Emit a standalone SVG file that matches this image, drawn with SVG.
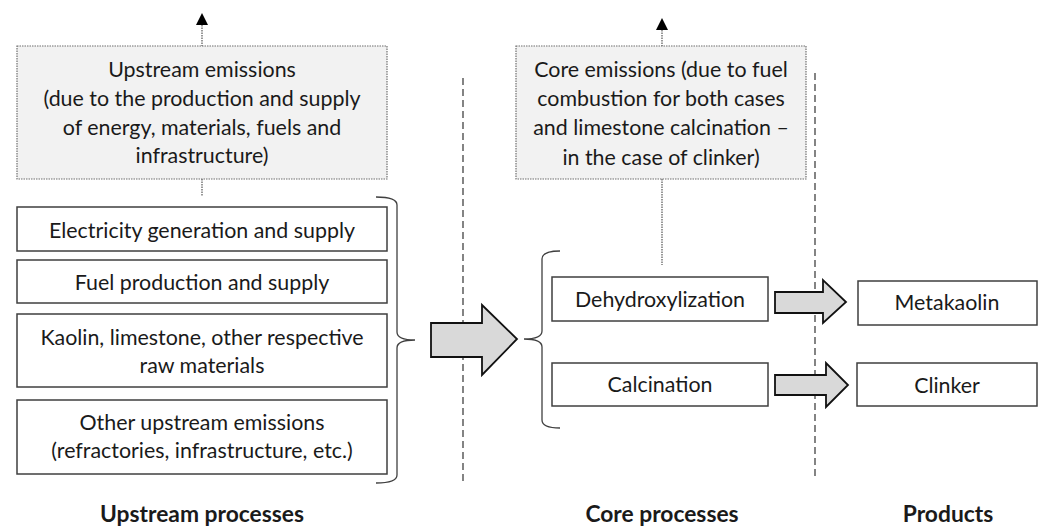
<svg xmlns="http://www.w3.org/2000/svg" width="1040" height="526" viewBox="0 0 1040 526">
<style>
text{font-family:Lato,"Liberation Sans",sans-serif;font-size:21.4px;fill:#1a1a1a;text-anchor:middle}
.lbl{font-weight:bold;font-size:22.8px}
.box{fill:#fff;stroke:#3f3f3f;stroke-width:1.5}
.emis{fill:#f2f2f2;stroke:#6f6f6f;stroke-width:1.2;stroke-dasharray:1.5 1}
.dot{stroke:#555;stroke-width:1.2;stroke-dasharray:1.5 1;fill:none}
.sep{stroke:#333;stroke-width:1.2;stroke-dasharray:7 4;fill:none}
.brace{fill:none;stroke:#404040;stroke-width:1.3}
.big{fill:#d9d9d9;stroke:#111;stroke-width:1.8;stroke-linejoin:miter}
</style>
<g id="separators">
<line class="sep" x1="463" y1="78" x2="463" y2="483"/>
<line class="sep" x1="815" y1="73" x2="815" y2="477"/>
</g>
<g id="connectors">
<line class="dot" x1="202" y1="25" x2="202" y2="46"/>
<polygon points="196,25 208,25 202,13" fill="#000"/>
<line class="dot" x1="202" y1="179" x2="202" y2="196"/>
<line class="dot" x1="662" y1="30" x2="662" y2="46"/>
<polygon points="656,30 668,30 662,18" fill="#000"/>
<line class="dot" x1="662" y1="179" x2="662" y2="265"/>
<path class="brace" d="M376,197 Q397,197 397,205 L397,332 Q397,340 415,340 Q397,340 397,348 L397,475 Q397,483 376,483"/>
<path class="brace" d="M560,251 Q542,251 542,259 L542,331 Q542,339 524,339 Q542,339 542,347 L542,420 Q542,428 560,428"/>
<polygon class="big" points="431,323 482,323 482,305 517,339 482,375 482,357 431,357"/>
<polygon class="big" points="775,292 823,292 823,280 846,302 823,323 823,313 775,313"/>
<polygon class="big" points="775,375 826,375 826,363 848,385 826,407 826,395 775,395"/>
</g>
<g id="upstream-emissions">
<rect class="emis" x="17" y="46" width="370" height="133"/>
<text x="202" y="77">Upstream emissions</text>
<text x="202" y="106">(due to the production and supply</text>
<text x="202" y="135">of energy, materials, fuels and</text>
<text x="202" y="163">infrastructure)</text>
</g>
<g id="electricity">
<rect class="box" x="17" y="207" width="370" height="44"/>
<text x="202" y="238">Electricity generation and supply</text>
</g>
<g id="fuel">
<rect class="box" x="17" y="260" width="370" height="43"/>
<text x="202" y="290">Fuel production and supply</text>
</g>
<g id="raw-materials">
<rect class="box" x="17" y="314" width="370" height="73"/>
<text x="202" y="345">Kaolin, limestone, other respective</text>
<text x="202" y="373">raw materials</text>
</g>
<g id="other-upstream">
<rect class="box" x="17" y="400" width="370" height="74"/>
<text x="202" y="430">Other upstream emissions</text>
<text x="202" y="458">(refractories, infrastructure, etc.)</text>
</g>
<g id="core-emissions">
<rect class="emis" x="516" y="46" width="290" height="133"/>
<text x="661" y="77">Core emissions (due to fuel</text>
<text x="661" y="106">combustion for both cases</text>
<text x="661" y="135">and limestone calcination –</text>
<text x="661" y="165">in the case of clinker)</text>
</g>
<g id="dehydroxylization">
<rect class="box" x="552" y="277" width="216" height="44"/>
<text x="660" y="307">Dehydroxylization</text>
</g>
<g id="calcination">
<rect class="box" x="552" y="363" width="216" height="43"/>
<text x="660" y="392">Calcination</text>
</g>
<g id="metakaolin">
<rect class="box" x="858" y="281" width="179" height="44"/>
<text x="947" y="310">Metakaolin</text>
</g>
<g id="clinker">
<rect class="box" x="857" y="363" width="180" height="43"/>
<text x="947" y="393">Clinker</text>
</g>
<g id="labels">
<text class="lbl" x="202" y="522">Upstream processes</text>
<text class="lbl" x="662" y="522">Core processes</text>
<text class="lbl" x="948" y="522">Products</text>
</g>
</svg>
